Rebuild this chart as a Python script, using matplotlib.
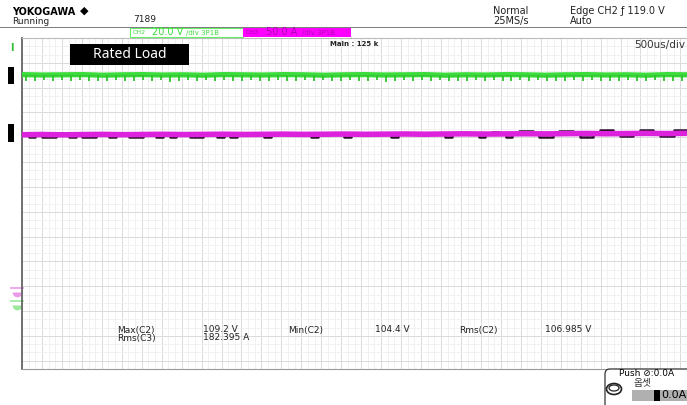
import numpy as np
import matplotlib.pyplot as plt
from matplotlib.patches import Rectangle, FancyBboxPatch, Ellipse

# 500 us/div, 10 div -> 5 ms on screen
# CH2 voltage (V): band level and the periodic dips
ch2_band = [107.9, 107.7, 107.8, 107.9, 107.6, 107.8, 107.9, 107.7, 107.8, 107.6,
            107.9, 107.8, 107.7, 107.9, 107.8, 107.6, 107.8, 107.9, 107.7, 107.8,
            107.9, 107.6, 107.8, 107.7, 107.9, 107.8, 107.6, 107.8, 107.9, 107.7,
            107.8, 107.6, 107.9, 107.8]
ch2_dips = [105.0, 104.8, 105.3, 104.9, 105.1, 104.6, 105.2, 104.9, 105.0, 104.7,
            105.3, 105.0, 104.8, 105.2, 104.9, 105.1, 104.5, 105.0, 105.2, 104.8,
            105.1, 104.9, 105.3, 104.7, 105.0, 105.2, 104.9, 104.6, 105.1, 105.0,
            104.8, 105.3, 104.9, 105.1, 104.7, 105.0, 105.2, 104.8, 104.9, 105.1,
            104.4, 105.0, 105.2, 104.8, 105.1, 104.9, 105.3, 104.7, 105.0, 104.9,
            105.2, 104.8, 105.1, 104.6, 105.0, 105.3, 104.9, 105.1, 104.8, 105.0,
            104.7, 105.2, 104.9, 105.1, 104.8, 105.0, 104.6, 105.2, 104.9, 105.0,
            105.1, 104.8, 105.0, 104.9]
DIP_PERIOD = 0.0676  # ms

# CH3 current (A)
ch3_band = [181.6, 181.9, 181.5, 181.8, 182.0, 181.7, 181.9, 182.1, 181.8, 182.0,
            182.2, 181.9, 182.1, 182.3, 182.0, 182.2, 182.4, 182.1, 182.3, 182.5,
            182.2, 182.5, 182.7, 182.4, 182.6, 182.8, 182.6, 182.9, 183.1, 182.8,
            183.0, 183.2, 183.0, 183.3]

# black trace sitting on the CH3 band, same scale
ch4_trace = [182, 179, 182, 179, 179, 182, 184, 179, 182, 179, 179, 182, 182, 179, 182,
             184, 179, 179, 182, 182, 179, 182, 179, 184, 182, 179, 179, 182, 182, 179,
             182, 179, 182, 182,
             182, 182, 179, 182, 182, 182, 184, 182, 182, 179, 182, 182, 182, 182, 179,
             182, 182, 184, 182, 182, 182, 179, 182, 182, 182, 182, 184, 182, 182, 179,
             182, 182, 182,
             182, 179, 182, 185, 182, 179, 182, 186, 186, 182, 179, 179, 182, 186.5, 186.5,
             182, 179, 179, 182, 187, 187, 182, 179.5, 179.5, 182, 187, 187, 182, 179.5, 179.5,
             187, 187, 183]

meas_names = ["Max(C2)", "Rms(C3)", "Min(C2)", "Rms(C2)"]
meas_values = ["109.2 V", "182.395 A", "104.4 V", "106.985 V"]

CH2_SCALE, CH2_POS = 20.0, -2.28   # V/div, div
CH3_SCALE, CH3_POS = 50.0, -1.97   # A/div, div

GREEN = '#3ddc3d'
MAGENTA = '#dd22dd'


def to_div(vals, scale, pos):
    return pos + np.asarray(vals, dtype=float) / scale


W, H = 687, 405
fig = plt.figure(figsize=(W / 100, H / 100), dpi=100)
fig.patch.set_facecolor('white')

ax = fig.add_axes([22 / W, (H - 369) / H, 665 / W, 331 / H])
ax.set_xlim(0, 5)
ax.set_ylim(-4, 4)
ax.set_xticks(np.arange(0, 5.001, 0.15))
ax.set_xticks(np.arange(0, 5.001, 0.05), minor=True)
ax.set_yticks(np.arange(4, -4.01, -0.6))
ax.set_yticks(np.arange(4, -4.01, -0.2), minor=True)
ax.grid(which='minor', color='#efefef', lw=0.6)
ax.grid(which='major', color='#dadada', lw=0.7)
ax.set_axisbelow(True)
ax.tick_params(which='both', length=0, labelbottom=False, labelleft=False)
ax.spines['right'].set_visible(False)
ax.spines['top'].set_color('#bbbbbb')
ax.spines['top'].set_linewidth(0.8)
ax.spines['bottom'].set_color('#999999')
ax.spines['left'].set_color('#666666')
ax.spines['left'].set_linewidth(1.3)
ax.spines['left'].set_linestyle((0, (2, 1)))

# CH3 + black trace
t3 = np.linspace(0, 5, len(ch3_band))
t4 = np.linspace(0, 5, len(ch4_trace))
ax.plot(t4, to_div(ch4_trace, CH3_SCALE, CH3_POS), color='#2a102a', lw=1.8,
        drawstyle='steps-post', zorder=2)
ax.plot(t3, to_div(ch3_band, CH3_SCALE, CH3_POS), color=MAGENTA, lw=4, zorder=3)

# CH2
t2 = np.linspace(0, 5, len(ch2_band))
band2 = to_div(ch2_band, CH2_SCALE, CH2_POS)
t_dips = 0.03 + DIP_PERIOD * np.arange(len(ch2_dips))
ax.plot(t2, band2, color=GREEN, lw=3.8, zorder=4)
ax.plot(t2, band2 - 0.02, color='#2cb82c', lw=0.6, alpha=0.7, zorder=4)
ax.vlines(t_dips, to_div(ch2_dips, CH2_SCALE, CH2_POS), np.interp(t_dips, t2, band2),
          color='#2fc42f', lw=1.3, zorder=4)

# ground markers for the two channels
ytr = ax.get_yaxis_transform()
for pos, col in [(CH3_POS, '#e99be9'), (CH2_POS, '#9be89b')]:
    ax.plot([-0.008], [pos - 0.08], marker='_', ms=10, mew=1.2, color=col, transform=ytr, clip_on=False)
    ax.plot([-0.008], [pos - 0.17], marker='o', ms=7, fillstyle='bottom', markerfacecoloralt='none',
            mec='none', color=col, transform=ytr, clip_on=False)

# screen overlay in pixel coordinates
ov = fig.add_axes([0, 0, 1, 1], zorder=5)
ov.set_xlim(0, W)
ov.set_ylim(H, 0)
ov.axis('off')
ov.patch.set_alpha(0)


def label(x, y, s, **kw):
    kw.setdefault('fontsize', 6.5)
    kw.setdefault('color', '#222222')
    ov.text(x, y, s, va='center', ha=kw.pop('ha', 'left'), **kw)


label(12, 12, 'YOKOGAWA', fontsize=7, fontweight='bold', color='black')
label(80, 11, '\u25c6', fontsize=8, color='black')
label(12, 21, 'Running')
label(133, 20, '7189')
ov.plot([0, W], [26.5, 26.5], color='#666666', lw=0.6)

label(493, 11, 'Normal', fontsize=7)
label(493, 21, '25MS/s', fontsize=7)
label(570, 11, 'Edge CH2 \u0192 119.0 V', fontsize=7)
label(570, 21, 'Auto', fontsize=7)

# channel boxes
ov.add_patch(Rectangle((130, 27.5), 113, 9, facecolor='white', edgecolor='#66ee66', lw=0.8))
label(133, 32, 'CH2', fontsize=4.5, color=GREEN)
label(152, 32, '20.0 V', fontsize=7, color=GREEN)
label(186, 32.5, '/div 3P1B', fontsize=5, color=GREEN)
ov.add_patch(Rectangle((243, 27.5), 108, 9, facecolor='#ff00ff', edgecolor='none'))
label(246, 32, 'CH3', fontsize=4.5, color='#b000b0')
label(266, 32, '50.0 A', fontsize=7, color='#b000b0')
label(302, 32.5, '/div 3P1B', fontsize=5, color='#b000b0')

label(330, 44, 'Main : 125 k', fontsize=5, fontweight='bold')
label(685, 45, '500us/div', fontsize=7.5, color='#333333', ha='right')

ov.add_patch(Rectangle((70, 44), 119, 21, facecolor='black'))
ov.text(129.5, 54.5, 'Rated Load', color='white', fontsize=10, family='Noto Sans',
        ha='center', va='center')

label(10, 48, 'I', fontsize=7, fontweight='bold', color='#33bb33')
ov.add_patch(Rectangle((8, 67), 6, 17, facecolor='black'))
ov.add_patch(Rectangle((8, 124), 6, 18, facecolor='black'))

# measurement readouts
label(117, 330, meas_names[0])
label(117, 338, meas_names[1])
label(203, 330, meas_values[0])
label(203, 338, meas_values[1])
label(288, 330, meas_names[2])
label(375, 330, meas_values[2])
label(459, 330, meas_names[3])
label(545, 330, meas_values[3])

# offset knob panel
ov.add_patch(FancyBboxPatch((605, 369), 100, 50, boxstyle='round,pad=0,rounding_size=5',
                            facecolor='white', edgecolor='#333333', lw=0.9))
label(619, 373, 'Push \u2298:0.0A', fontsize=6.5, color='black')
ov.text(642, 383, '옵셋', fontsize=7, family='Noto Sans CJK KR',
        va='center', ha='center', color='#333333')
ov.add_patch(Ellipse((614, 389), 15, 11, facecolor='white', edgecolor='#222222', lw=1.2))
ov.add_patch(Ellipse((614, 388), 10, 6, facecolor='white', edgecolor='#222222', lw=0.9))
ov.add_patch(Rectangle((632, 390), 60, 11, facecolor='#b0b0b0', edgecolor='none'))
ov.add_patch(Rectangle((654, 390), 6, 11, facecolor='black'))
label(661, 395.5, '0.0A', fontsize=8, color='black')

fig.savefig('out.png', dpi=100)
